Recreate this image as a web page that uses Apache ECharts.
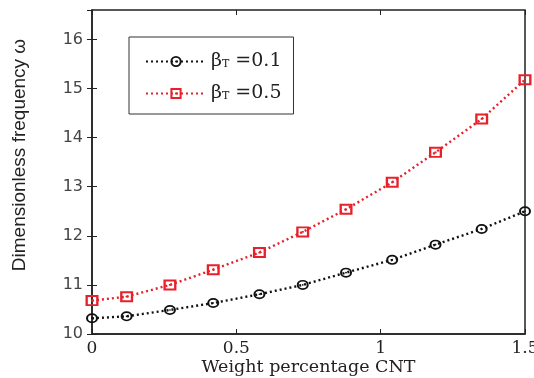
<!DOCTYPE html>
<html><head><meta charset="utf-8">
<script src="https://cdn.jsdelivr.net/npm/echarts@6/dist/echarts.min.js"></script>
<style>html,body{margin:0;padding:0;background:#fff}#c{width:534px;height:378px}</style>
</head><body><div id="c"></div>
<script>
const weightPct = [0, 0.12, 0.27, 0.42, 0.58, 0.73, 0.88, 1.04, 1.19, 1.35, 1.5];
const omegaBeta01 = [10.32, 10.36, 10.49, 10.63, 10.81, 11.0, 11.25, 11.51, 11.82, 12.14, 12.5];
const omegaBeta05 = [10.68, 10.76, 11.0, 11.31, 11.66, 12.08, 12.54, 13.09, 13.7, 14.38, 15.18];
const seriesNames = ['b01', 'b05'];
const legendLabels = {b01: '{g|β}{s|T} =0.1', b05: '{g|β}{s|T} =0.5'};
const xTicks = [0, 0.5, 1, 1.5];

const ringPath = 'path://M0,10 A10,10 0 1,1 20,10 A10,10 0 1,1 0,10 Z M3.4,10 A6.6,6.6 0 1,0 16.6,10 A6.6,6.6 0 1,0 3.4,10 Z M8.4,10 A1.6,1.6 0 1,1 11.6,10 A1.6,1.6 0 1,1 8.4,10 Z';
const boxPath = 'path://M0,0 H20 V20 H0 Z M3.6,3.6 V16.4 H16.4 V3.6 Z M8.4,8.4 H11.6 V11.6 H8.4 Z';

const chart = echarts.init(document.getElementById('c'));
const serif = "'DejaVu Serif','Liberation Serif',serif";
const sans = "'Liberation Sans',Arial,sans-serif";
const axisCol = '#222';
chart.setOption({
  animation: false,
  backgroundColor: '#fff',
  grid: {left: 92, right: 9, top: 10, bottom: 44, containLabel: false, outerBoundsMode: 'none',
    show: true, borderColor: axisCol, borderWidth: 1.5},
  legend: {
    left: 129, top: 37, orient: 'vertical',
    borderColor: '#333', borderWidth: 1, padding: [15, 12, 11, 16],
    itemWidth: 60, itemHeight: 14, itemGap: 13,
    data: seriesNames,
    formatter: n => legendLabels[n],
    textStyle: {color: '#222', fontFamily: serif, fontSize: 19,
      rich: {g: {fontFamily: serif, fontSize: 19, color: '#222'},
             s: {fontFamily: serif, fontSize: 11, color: '#222', padding: [5, 0, 0, 0]}}}
  },
  xAxis: [{
    type: 'value', min: 0, max: 1.5, interval: 0.5,
    name: 'Weight percentage CNT', nameLocation: 'middle', nameGap: 24, nameMoveOverlap: false,
    nameTextStyle: {fontFamily: serif, fontSize: 17.5, color: '#222', lineHeight: 18},
    axisLine: {show: true, lineStyle: {color: axisCol, width: 1.5}},
    axisTick: {inside: true, length: 5, lineStyle: {color: axisCol}},
    axisLabel: {fontFamily: serif, fontSize: 17, color: '#222', margin: 6,
      customValues: xTicks, formatter: v => String(v)},
    splitLine: {show: false}
  }, {
    type: 'value', min: 0, max: 1.5, interval: 0.5, position: 'top',
    axisLine: {show: false}, axisLabel: {show: false},
    axisTick: {inside: true, length: 5, lineStyle: {color: axisCol}},
    splitLine: {show: false}
  }],
  yAxis: [{
    type: 'value', min: 10, max: 16.6, interval: 1,
    name: 'Dimensionless frequency ω', nameLocation: 'middle', nameGap: 63, nameMoveOverlap: false,
    nameTextStyle: {fontFamily: sans, fontSize: 19, color: '#222', padding: [0, 0, 0, 34]},
    axisLine: {show: true, lineStyle: {color: axisCol, width: 1.5}},
    axisTick: {inside: true, length: 5, lineStyle: {color: axisCol}},
    axisLabel: {fontFamily: "'DejaVu Sans',sans-serif", fontSize: 16, color: '#444', margin: 9, showMaxLabel: false},
    splitLine: {show: false}
  }, {
    type: 'value', min: 10, max: 16.6, interval: 1, position: 'right',
    axisLine: {show: false}, axisLabel: {show: false},
    axisTick: {inside: true, length: 5, lineStyle: {color: axisCol}},
    splitLine: {show: false}
  }],
  series: [{
    name: 'b01', type: 'line',
    data: weightPct.map((x, i) => [x, omegaBeta01[i]]),
    symbol: ringPath, symbolSize: [12, 10], showAllSymbol: true,
    lineStyle: {color: '#111', width: 2.4, type: [2, 3]},
    itemStyle: {color: '#111', borderWidth: 0}
  }, {
    name: 'b05', type: 'line',
    data: weightPct.map((x, i) => [x, omegaBeta05[i]]),
    symbol: boxPath, symbolSize: [13, 11], showAllSymbol: true,
    lineStyle: {color: '#e8202a', width: 2.4, type: [2, 3]},
    itemStyle: {color: '#e8202a', borderWidth: 0}
  }]
});
</script></body></html>
